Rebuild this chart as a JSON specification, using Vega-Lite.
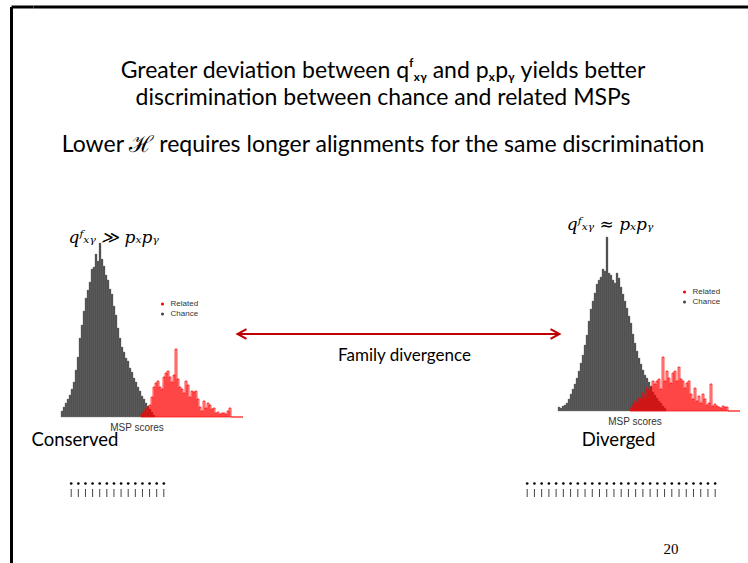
{
 "$schema": "https://vega.github.io/schema/vega-lite/v6.json",
 "padding": {"left": 9.5, "top": 5, "right": 0, "bottom": 0},
 "background": "white",
 "config": {"view": {"stroke": null}, "axis": {"grid": false}, "title": {"fontWeight": "normal", "color": "black"}},
 "datasets": {
  "conserved": [
   {"series":"Chance","score":10,"count":6},{"series":"Chance","score":12,"count":10},{"series":"Chance","score":14,"count":14},{"series":"Chance","score":16,"count":18},{"series":"Chance","score":18,"count":22},{"series":"Chance","score":20,"count":28},{"series":"Chance","score":22,"count":35},{"series":"Chance","score":24,"count":47},{"series":"Chance","score":26,"count":60},{"series":"Chance","score":28,"count":79},{"series":"Chance","score":30,"count":92},{"series":"Chance","score":32,"count":106},{"series":"Chance","score":34,"count":119},{"series":"Chance","score":36,"count":127},{"series":"Chance","score":38,"count":135},{"series":"Chance","score":40,"count":148},{"series":"Chance","score":42,"count":150},{"series":"Chance","score":44,"count":163},{"series":"Chance","score":46,"count":156},{"series":"Chance","score":48,"count":174},{"series":"Chance","score":50,"count":158},{"series":"Chance","score":52,"count":151},{"series":"Chance","score":54,"count":142},{"series":"Chance","score":56,"count":137},{"series":"Chance","score":58,"count":128},{"series":"Chance","score":60,"count":123},{"series":"Chance","score":62,"count":111},{"series":"Chance","score":64,"count":102},{"series":"Chance","score":66,"count":89},{"series":"Chance","score":68,"count":79},{"series":"Chance","score":70,"count":70},{"series":"Chance","score":72,"count":65},{"series":"Chance","score":74,"count":59},{"series":"Chance","score":76,"count":56},{"series":"Chance","score":78,"count":49},{"series":"Chance","score":80,"count":45},{"series":"Chance","score":82,"count":39},{"series":"Chance","score":84,"count":35},{"series":"Chance","score":86,"count":30},{"series":"Chance","score":88,"count":26},{"series":"Chance","score":90,"count":21},{"series":"Chance","score":92,"count":18},{"series":"Chance","score":94,"count":14},{"series":"Chance","score":96,"count":11},{"series":"Chance","score":98,"count":8},{"series":"Chance","score":100,"count":5},{"series":"Chance","score":102,"count":2},
   {"series":"Related","score":90,"count":3},{"series":"Related","score":92,"count":5},{"series":"Related","score":94,"count":8},{"series":"Related","score":96,"count":10},{"series":"Related","score":98,"count":12},{"series":"Related","score":100,"count":20},{"series":"Related","score":102,"count":30},{"series":"Related","score":104,"count":34},{"series":"Related","score":106,"count":36},{"series":"Related","score":108,"count":30},{"series":"Related","score":110,"count":28},{"series":"Related","score":112,"count":40},{"series":"Related","score":114,"count":44},{"series":"Related","score":116,"count":46},{"series":"Related","score":118,"count":40},{"series":"Related","score":120,"count":35},{"series":"Related","score":122,"count":42},{"series":"Related","score":124,"count":68},{"series":"Related","score":126,"count":38},{"series":"Related","score":128,"count":30},{"series":"Related","score":130,"count":28},{"series":"Related","score":132,"count":24},{"series":"Related","score":134,"count":36},{"series":"Related","score":136,"count":32},{"series":"Related","score":138,"count":20},{"series":"Related","score":140,"count":26},{"series":"Related","score":142,"count":25},{"series":"Related","score":144,"count":26},{"series":"Related","score":146,"count":18},{"series":"Related","score":148,"count":10},{"series":"Related","score":150,"count":6},{"series":"Related","score":152,"count":16},{"series":"Related","score":154,"count":9},{"series":"Related","score":156,"count":14},{"series":"Related","score":158,"count":12},{"series":"Related","score":160,"count":8},{"series":"Related","score":162,"count":9},{"series":"Related","score":164,"count":4},{"series":"Related","score":166,"count":5},{"series":"Related","score":168,"count":3},{"series":"Related","score":170,"count":4},{"series":"Related","score":172,"count":4},{"series":"Related","score":174,"count":3},{"series":"Related","score":176,"count":6},{"series":"Related","score":178,"count":9},{"series":"Related","score":180,"count":0},{"series":"Related","score":182,"count":0},{"series":"Related","score":184,"count":0},{"series":"Related","score":186,"count":0},{"series":"Related","score":188,"count":0},{"series":"Related","score":190,"count":0}
  ],
  "diverged": [
   {"series":"Chance","score":7,"count":4},{"series":"Chance","score":9,"count":3},{"series":"Chance","score":11,"count":5},{"series":"Chance","score":13,"count":6},{"series":"Chance","score":15,"count":8},{"series":"Chance","score":17,"count":12},{"series":"Chance","score":19,"count":17},{"series":"Chance","score":21,"count":22},{"series":"Chance","score":23,"count":27},{"series":"Chance","score":25,"count":33},{"series":"Chance","score":27,"count":40},{"series":"Chance","score":29,"count":48},{"series":"Chance","score":31,"count":56},{"series":"Chance","score":33,"count":66},{"series":"Chance","score":35,"count":76},{"series":"Chance","score":37,"count":90},{"series":"Chance","score":39,"count":102},{"series":"Chance","score":41,"count":110},{"series":"Chance","score":43,"count":118},{"series":"Chance","score":45,"count":127},{"series":"Chance","score":47,"count":131},{"series":"Chance","score":49,"count":134},{"series":"Chance","score":51,"count":142},{"series":"Chance","score":53,"count":140},{"series":"Chance","score":55,"count":174},{"series":"Chance","score":57,"count":138},{"series":"Chance","score":59,"count":136},{"series":"Chance","score":61,"count":131},{"series":"Chance","score":63,"count":128},{"series":"Chance","score":65,"count":138},{"series":"Chance","score":67,"count":133},{"series":"Chance","score":69,"count":124},{"series":"Chance","score":71,"count":117},{"series":"Chance","score":73,"count":110},{"series":"Chance","score":75,"count":103},{"series":"Chance","score":77,"count":95},{"series":"Chance","score":79,"count":88},{"series":"Chance","score":81,"count":77},{"series":"Chance","score":83,"count":68},{"series":"Chance","score":85,"count":60},{"series":"Chance","score":87,"count":53},{"series":"Chance","score":89,"count":47},{"series":"Chance","score":91,"count":41},{"series":"Chance","score":93,"count":36},{"series":"Chance","score":95,"count":33},{"series":"Chance","score":97,"count":29},{"series":"Chance","score":99,"count":25},{"series":"Chance","score":101,"count":19},{"series":"Chance","score":103,"count":16},{"series":"Chance","score":105,"count":13},{"series":"Chance","score":107,"count":10},{"series":"Chance","score":109,"count":8},{"series":"Chance","score":111,"count":5},{"series":"Chance","score":113,"count":3},
   {"series":"Related","score":79,"count":3},{"series":"Related","score":81,"count":6},{"series":"Related","score":83,"count":10},{"series":"Related","score":85,"count":8},{"series":"Related","score":87,"count":13},{"series":"Related","score":89,"count":12},{"series":"Related","score":91,"count":18},{"series":"Related","score":93,"count":14},{"series":"Related","score":95,"count":23},{"series":"Related","score":97,"count":20},{"series":"Related","score":99,"count":24},{"series":"Related","score":101,"count":30},{"series":"Related","score":103,"count":27},{"series":"Related","score":105,"count":30},{"series":"Related","score":107,"count":32},{"series":"Related","score":109,"count":22},{"series":"Related","score":111,"count":54},{"series":"Related","score":113,"count":30},{"series":"Related","score":115,"count":40},{"series":"Related","score":117,"count":33},{"series":"Related","score":119,"count":28},{"series":"Related","score":121,"count":38},{"series":"Related","score":123,"count":40},{"series":"Related","score":125,"count":30},{"series":"Related","score":127,"count":44},{"series":"Related","score":129,"count":32},{"series":"Related","score":131,"count":30},{"series":"Related","score":133,"count":23},{"series":"Related","score":135,"count":28},{"series":"Related","score":137,"count":30},{"series":"Related","score":139,"count":17},{"series":"Related","score":141,"count":12},{"series":"Related","score":143,"count":23},{"series":"Related","score":145,"count":10},{"series":"Related","score":147,"count":15},{"series":"Related","score":149,"count":8},{"series":"Related","score":151,"count":17},{"series":"Related","score":153,"count":12},{"series":"Related","score":155,"count":6},{"series":"Related","score":157,"count":8},{"series":"Related","score":159,"count":27},{"series":"Related","score":161,"count":5},{"series":"Related","score":163,"count":7},{"series":"Related","score":165,"count":5},{"series":"Related","score":167,"count":4},{"series":"Related","score":169,"count":3},{"series":"Related","score":171,"count":5},{"series":"Related","score":173,"count":4},{"series":"Related","score":175,"count":4},{"series":"Related","score":177,"count":0},{"series":"Related","score":179,"count":0},{"series":"Related","score":181,"count":0},{"series":"Related","score":183,"count":0},{"series":"Related","score":185,"count":0},{"series":"Related","score":187,"count":0}
  ],
  "arrow": [{"end": 0, "side": "left"}, {"end": 1, "side": "right"}],
  "arrowLabel": [{"label": "Family divergence"}],
  "alnConserved": [{"col":1},{"col":2},{"col":3},{"col":4},{"col":5},{"col":6},{"col":7},{"col":8},{"col":9},{"col":10},{"col":11},{"col":12},{"col":13},{"col":14}],
  "alnDiverged": [{"col":1},{"col":2},{"col":3},{"col":4},{"col":5},{"col":6},{"col":7},{"col":8},{"col":9},{"col":10},{"col":11},{"col":12},{"col":13},{"col":14},{"col":15},{"col":16},{"col":17},{"col":18},{"col":19},{"col":20},{"col":21},{"col":22},{"col":23},{"col":24},{"col":25},{"col":26},{"col":27}]
 },
 "spacing": 0,
 "bounds": "flush",
 "hconcat": [
  {
   "width": 22, "height": 570,
   "data": {"values": [{"frame": 1}]},
   "encoding": {
    "x": {"datum": 0, "type": "quantitative", "scale": {"domain": [0, 1], "nice": false}, "axis": null},
    "y": {"datum": 1, "type": "quantitative", "scale": {"domain": [0, 1], "nice": false}, "axis": null}
   },
   "layer": [
    {"mark": {"type": "rule", "color": "black", "strokeWidth": 3}, "encoding": {"y2": {"datum": 0}}},
    {"mark": {"type": "rule", "color": "black", "strokeWidth": 3}, "encoding": {"x2": {"datum": 1}}}
   ]
  },
  {
   "spacing": 58,
   "vconcat": [
    {
     "width": 715, "height": 1,
     "title": {
      "text": ["Greater deviation between qᶠₓᵧ and pₓpᵧ yields better", "discrimination between chance and related MSPs"],
      "subtitle": "Lower ℋ requires longer alignments for the same discrimination",
      "orient": "bottom", "anchor": "middle", "dx": -8, "offset": 51,
      "font": "Lato", "fontSize": 23, "fontWeight": "normal", "lineHeight": 27, "color": "black",
      "subtitleFont": "Lato", "subtitleFontSize": 23, "subtitleColor": "black", "subtitlePadding": 24, "subtitleLineHeight": 27
     },
     "data": {"values": [{"frame": 1}]},
     "mark": {"type": "rule", "color": "black", "strokeWidth": 3},
     "encoding": {
      "x": {"datum": 0, "type": "quantitative", "scale": {"domain": [0, 1], "nice": false}, "axis": null},
      "x2": {"datum": 1},
      "y": {"datum": 1, "type": "quantitative", "scale": {"domain": [0, 1], "nice": false}, "axis": null}
     }
    },
    {
     "spacing": -2,
     "vconcat": [
      {
       "spacing": 0,
       "bounds": "flush",
       "resolve": {"scale": {"color": "independent"}, "legend": {"color": "independent"}},
       "hconcat": [
        {
         "width": 25, "height": 180,
         "data": {"values": [{"frame": 1}]},
         "mark": {"type": "point", "opacity": 0},
         "encoding": {}
        },
        {
         "width": 179, "height": 180,
         "title": {"text": "qᶠₓᵧ ≫ pₓpᵧ", "anchor": "start", "dx": 10, "offset": -23, "baseline": "alphabetic", "font": "DejaVu Serif", "fontStyle": "italic", "fontSize": 17, "fontWeight": "normal", "color": "black"},
         "data": {"name": "conserved"},
         "encoding": {
          "x": {"field": "score", "type": "quantitative", "bin": {"binned": true, "step": 2}, "scale": {"domain": [8, 187], "nice": false, "zero": false},
                "axis": {"orient": "bottom", "domain": false, "ticks": false, "labels": false, "title": "MSP scores", "titleFont": "Liberation Sans", "titleFontSize": 10, "titleFontWeight": "normal", "titleColor": "#333333", "titleX": 78, "titleY": 10, "titleBaseline": "middle", "titleAlign": "center"}},
          "y": {"field": "count", "type": "quantitative", "scale": {"domain": [0, 180], "nice": false}, "axis": null},
          "color": {"field": "series", "type": "nominal", "scale": {"domain": ["Related", "Chance"], "range": ["#ff0000", "#474747"]},
                    "legend": {"orient": "none", "legendX": 100, "legendY": 63, "title": null, "symbolType": "circle", "symbolSize": 10, "symbolStrokeWidth": 0, "symbolOpacity": 1, "labelFont": "Liberation Sans", "labelFontSize": 8, "labelColor": "#333333", "rowPadding": 2, "labelOffset": 4, "padding": 0}}
         },
         "layer": [
          {"transform": [{"filter": "datum.series === 'Chance'"}], "mark": {"type": "bar", "binSpacing": 0, "stroke": "#7a7a7a", "strokeWidth": 0.4}},
          {"transform": [{"filter": "datum.series === 'Related'"}], "mark": {"type": "bar", "binSpacing": 0, "fillOpacity": 0.35, "stroke": "#ff0000", "strokeWidth": 0.7}}
         ]
        },
        {
         "width": 322, "height": 180,
         "layer": [
          {
           "data": {"name": "arrowLabel"},
           "mark": {"type": "rule", "color": "#c00000", "strokeWidth": 2},
           "encoding": {
            "x": {"datum": 0, "type": "quantitative", "scale": {"domain": [0, 1], "nice": false, "zero": false}, "axis": null},
            "x2": {"datum": 1},
            "y": {"datum": 83, "type": "quantitative", "scale": {"domain": [0, 180], "nice": false}, "axis": null}
           }
          },
          {
           "data": {"name": "arrow"},
           "mark": {"type": "point", "filled": false, "stroke": "#c00000", "strokeWidth": 2, "size": 324, "opacity": 1},
           "encoding": {
            "x": {"field": "end", "type": "quantitative"},
            "y": {"datum": 83, "type": "quantitative"},
            "shape": {"field": "side", "type": "nominal", "scale": {"domain": ["left", "right"], "range": ["M1,-0.55L0,0L1,0.55", "M-1,-0.55L0,0L-1,0.55"]}, "legend": null}
           }
          },
          {
           "data": {"name": "arrowLabel"},
           "mark": {"type": "text", "font": "Lato", "fontSize": 17, "color": "black", "dx": 6},
           "encoding": {
            "x": {"datum": 0.5, "type": "quantitative"},
            "y": {"datum": 61, "type": "quantitative"},
            "text": {"field": "label"}
           }
          }
         ]
        },
        {
         "width": 182, "height": 174,
         "title": {"text": "qᶠₓᵧ ≈ pₓpᵧ", "anchor": "start", "dx": 9, "offset": -10, "baseline": "alphabetic", "font": "DejaVu Serif", "fontStyle": "italic", "fontSize": 17, "fontWeight": "normal", "color": "black"},
         "data": {"name": "diverged"},
         "encoding": {
          "x": {"field": "score", "type": "quantitative", "bin": {"binned": true, "step": 2}, "scale": {"domain": [9, 191], "nice": false, "zero": false},
                "axis": {"orient": "bottom", "domain": false, "ticks": false, "labels": false, "title": "MSP scores", "titleFont": "Liberation Sans", "titleFontSize": 10, "titleFontWeight": "normal", "titleColor": "#333333", "titleX": 75, "titleY": 10, "titleBaseline": "middle", "titleAlign": "center"}},
          "y": {"field": "count", "type": "quantitative", "scale": {"domain": [0, 174], "nice": false}, "axis": null},
          "color": {"field": "series", "type": "nominal", "scale": {"domain": ["Related", "Chance"], "range": ["#ff0000", "#474747"]},
                    "legend": {"orient": "none", "legendX": 121, "legendY": 51, "title": null, "symbolType": "circle", "symbolSize": 10, "symbolStrokeWidth": 0, "symbolOpacity": 1, "labelFont": "Liberation Sans", "labelFontSize": 8, "labelColor": "#333333", "rowPadding": 2, "labelOffset": 4, "padding": 0}}
         },
         "layer": [
          {"transform": [{"filter": "datum.series === 'Chance'"}], "mark": {"type": "bar", "binSpacing": 0, "stroke": "#7a7a7a", "strokeWidth": 0.4}},
          {"transform": [{"filter": "datum.series === 'Related'"}], "mark": {"type": "bar", "binSpacing": 0, "fillOpacity": 0.35, "stroke": "#ff0000", "strokeWidth": 0.7}}
         ]
        }
       ]
      },
      {
       "spacing": 344,
       "hconcat": [
        {
         "width": 143, "height": 24,
         "title": {"text": "Conserved", "anchor": "start", "dx": -2, "offset": 15, "baseline": "alphabetic", "font": "Lato", "fontSize": 18.5, "fontWeight": "normal", "color": "black"},
         "data": {"name": "alnConserved"},
         "encoding": {"x": {"field": "col", "type": "quantitative", "scale": {"domain": [-4.293, 15.78], "nice": false, "zero": false}, "axis": null}},
         "layer": [
          {"mark": {"type": "point", "filled": true, "size": 7, "color": "black", "opacity": 1}, "encoding": {"y": {"datum": 19.5, "type": "quantitative", "scale": {"domain": [0, 24], "nice": false}, "axis": null}}},
          {"mark": {"type": "rule", "color": "#444444", "strokeWidth": 1}, "encoding": {"y": {"datum": 14, "type": "quantitative"}, "y2": {"datum": 6}}}
         ]
        },
        {
         "width": 221, "height": 24,
         "title": {"text": "Diverged", "anchor": "middle", "dx": -12.5, "offset": 15, "baseline": "alphabetic", "font": "Lato", "fontSize": 18.5, "fontWeight": "normal", "color": "black"},
         "data": {"name": "alnDiverged"},
         "encoding": {"x": {"field": "col", "type": "quantitative", "scale": {"domain": [0.073, 30.64], "nice": false, "zero": false},
                "axis": {"orient": "bottom", "domain": false, "ticks": false, "labels": false, "title": "20", "titleFont": "Liberation Serif", "titleFontSize": 15, "titleFontWeight": "normal", "titleColor": "black", "titleX": 150, "titleY": 45, "titleBaseline": "middle", "titleAlign": "center"}}},
         "layer": [
          {"mark": {"type": "point", "filled": true, "size": 7, "color": "black", "opacity": 1}, "encoding": {"y": {"datum": 19.5, "type": "quantitative", "scale": {"domain": [0, 24], "nice": false}, "axis": null}}},
          {"mark": {"type": "rule", "color": "#444444", "strokeWidth": 1}, "encoding": {"y": {"datum": 14, "type": "quantitative"}, "y2": {"datum": 6}}}
         ]
        }
       ]
      }
     ]
    }
   ]
  }
 ]
}
